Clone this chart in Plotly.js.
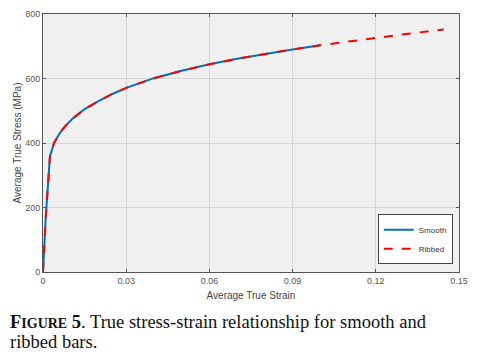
<!DOCTYPE html>
<html><head><meta charset="utf-8">
<script src="https://cdn.plot.ly/plotly-3.0.1.min.js"></script>
<style>body{margin:0;background:#fff}#plot{width:479px;height:358px}</style>
</head><body><div id="plot"></div>
<script>
const smoothStrain = [0, 0.0005, 0.001, 0.0025, 0.004, 0.006, 0.008, 0.011, 0.015, 0.02, 0.025, 0.03, 0.035, 0.04, 0.05, 0.06, 0.07, 0.08, 0.09, 0.1];
const smoothStress = [0, 80, 170, 358, 400, 430, 452, 478, 505, 530, 552, 571, 587, 601, 624, 644, 661, 676, 690, 703];
const ribbedStrain = [0, 0.0005, 0.001, 0.0025, 0.004, 0.006, 0.008, 0.011, 0.015, 0.02, 0.025, 0.03, 0.035, 0.04, 0.05, 0.06, 0.07, 0.08, 0.09, 0.1, 0.11, 0.12, 0.13, 0.1445];
const ribbedStress = [0, 80, 170, 358, 400, 430, 452, 478, 505, 530, 552, 571, 587, 601, 624, 644, 661, 676, 690, 703, 715, 727, 737, 752];
const xTicks = [0, 0.03, 0.06, 0.09, 0.12, 0.15];
const xTickText = ['0', '0.03', '0.06', '0.09', '0.12', '0.15'];
const yTicks = [0, 200, 400, 600, 800];

const axisCommon = {
  showline: true, linecolor: '#555', linewidth: 1, mirror: 'ticks',
  ticks: 'inside', ticklen: 3, tickcolor: '#555',
  showgrid: true, gridcolor: '#d6d6d6', gridwidth: 1, zeroline: false,
  tickfont: {family: 'Liberation Sans, Arial', size: 9, color: '#555'}
};

const data = [
  {x: smoothStrain, y: smoothStress, name: 'Smooth', mode: 'lines',
   line: {color: '#0072BD', width: 2}},
  {x: ribbedStrain, y: ribbedStress, name: 'Ribbed', mode: 'lines',
   line: {color: '#FF0000', width: 2, dash: 'dash'}}
];

const capFont = {family: 'Liberation Serif, Times New Roman', size: 18.5, color: '#111'};
const layout = {
  width: 479, height: 358,
  margin: {l: 43, r: 20, t: 14, b: 86},
  paper_bgcolor: '#ffffff', plot_bgcolor: '#f0f0f0',
  showlegend: true,
  legend: {x: 0.985, y: 0.03, xanchor: 'right', yanchor: 'bottom',
    bgcolor: '#ffffff', bordercolor: '#444', borderwidth: 1,
    font: {family: 'Liberation Sans, Arial', size: 8, color: '#333'},
    tracegroupgap: 8, itemwidth: 30},
  xaxis: Object.assign({}, axisCommon, {
    range: [0, 0.15], tickvals: xTicks, ticktext: xTickText,
    title: {text: 'Average True Strain', standoff: 7,
      font: {family: 'Liberation Sans, Arial', size: 10, color: '#444'}}
  }),
  yaxis: Object.assign({}, axisCommon, {
    range: [0, 800], tickvals: yTicks,
    title: {text: 'Average True Stress (MPa)', standoff: 1,
      font: {family: 'Liberation Sans, Arial', size: 10, color: '#444'}}
  }),
  annotations: [
    {xref: 'paper', yref: 'paper', x: -35/416, y: -50/258, xanchor: 'left', yanchor: 'middle',
     showarrow: false,
     text: '<b>F<span style="font-size:14px">IGURE</span> 5</b>. True stress-strain relationship for smooth and',
     font: capFont},
    {xref: 'paper', yref: 'paper', x: -35/416, y: -70/258, xanchor: 'left', yanchor: 'middle',
     showarrow: false, text: 'ribbed bars.', font: capFont}
  ]
};

Plotly.newPlot('plot', data, layout, {displayModeBar: false, staticPlot: true});
</script></body></html>
